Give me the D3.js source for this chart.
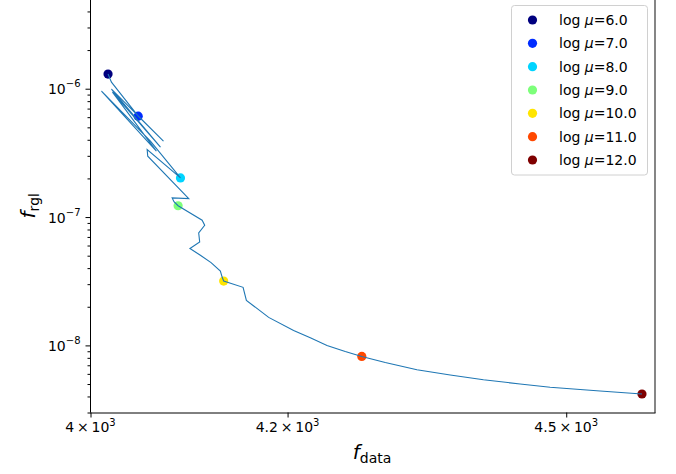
<!DOCTYPE html>
<html><head><meta charset="utf-8">
<script src="https://cdn.jsdelivr.net/npm/d3@7"></script>
<style>body{margin:0;background:#fff} svg{display:block}</style>
</head><body>
<svg id="chart" width="676" height="474"></svg>
<script>
// ---- data ----
const logMu = [6, 7, 8, 9, 10, 11, 12];
const muColors = ["#00007f", "#002cff", "#00d4ff", "#7dff7a", "#ffe500", "#ff4800", "#7f0000"];
const fDataMarkers = [4017.4, 4047.5, 4090.1, 4087.7, 4134.1, 4277.9, 4585.2];
const fRglMarkers  = [1.300e-6, 6.112e-7, 2.018e-7, 1.2248e-7, 3.173e-8, 8.204e-9, 4.182e-9];

const fDataPath = [4017.4, 4020.8, 4047.5, 4072.9, 4020.8, 4069.9, 4021.8, 4065.8, 4010.9, 4059.8,
  4090.1, 4056.5, 4057.1, 4098.5, 4081.7, 4083.5, 4087.7, 4112.1, 4114.7, 4108.6,
  4109.6, 4099.7, 4110.3, 4121.2, 4130.7, 4132.5, 4134.1, 4154.0, 4157.4, 4180.4,
  4206.3, 4223.7, 4241.2, 4260.4, 4277.9, 4302.8, 4336.7, 4372.6, 4408.7, 4448.9,
  4482.1, 4537.9, 4585.2];
const fRglPath = [1.300e-6, 1.1258e-6, 6.112e-7, 3.901e-7, 9.928e-7, 3.503e-7, 9.407e-7, 3.262e-7, 9.578e-7, 3.901e-7,
  2.018e-7, 3.3615e-7, 2.980e-7, 1.394e-7, 1.409e-7, 1.316e-7, 1.2248e-7, 9.440e-8, 8.629e-8, 7.514e-8,
  6.392e-8, 5.679e-8, 5.033e-8, 4.415e-8, 3.797e-8, 3.409e-8, 3.173e-8, 2.834e-8, 2.243e-8, 1.653e-8,
  1.308e-8, 1.148e-8, 9.996e-9, 8.976e-9, 8.204e-9, 7.366e-9, 6.459e-9, 5.886e-9, 5.399e-9, 5.005e-9,
  4.725e-9, 4.414e-9, 4.182e-9];

const xTicks = [4000, 4200, 4500];
const xTickMantissa = ["4", "4.2", "4.5"];
const xTickExp = "3";
const yTicks = [1e-8, 1e-7, 1e-6];
const yTickExp = ["\u22128", "\u22127", "\u22126"];
const xDomain = [4000, 4600];
const yDomain = [3e-9, 5e-6];

// ---- layout ----
const svg = d3.select("#chart");
const L = 90.5, R = 655, T = -1, B = 412.5;
const font = "DejaVu Sans, sans-serif";

const x = d3.scaleLog().domain(xDomain).range([L, R]);
const y = d3.scaleLog().domain(yDomain).range([B, T]);

// minor y ticks
const yMinor = [];
for (let e = -9; e <= -6; e++) {
  for (let m = 2; m <= 9; m++) {
    const v = m * Math.pow(10, e);
    if (v >= yDomain[0] * 0.999 && v <= yDomain[1] * 1.001) yMinor.push(v);
  }
}

// markers (under the line)
svg.append("g").selectAll("circle").data(logMu).join("circle")
  .attr("cx", (d, i) => x(fDataMarkers[i]))
  .attr("cy", (d, i) => y(fRglMarkers[i]))
  .attr("r", 4.6)
  .attr("fill", (d, i) => muColors[i]);

// line
const line = d3.line().x((d, i) => x(fDataPath[i])).y((d, i) => y(fRglPath[i]));
svg.append("path").datum(fDataPath)
  .attr("d", line)
  .attr("fill", "none")
  .attr("stroke", "#1f77b4")
  .attr("stroke-width", 1.1)
  .attr("stroke-linejoin", "miter");

// axes
const yAxis = d3.axisLeft(y).tickValues(yTicks).tickFormat("").tickSize(5).tickSizeOuter(0);
const gy = svg.append("g").attr("transform", `translate(${L},0)`).call(yAxis);
const yAxisMinor = d3.axisLeft(y).tickValues(yMinor).tickFormat("").tickSize(3).tickSizeOuter(0);
const gym = svg.append("g").attr("transform", `translate(${L},0)`).call(yAxisMinor);
gym.select(".domain").remove();

const xAxis = d3.axisBottom(x).tickValues(xTicks).tickFormat("").tickSize(5).tickSizeOuter(0);
const gx = svg.append("g").attr("transform", `translate(0,${B})`).call(xAxis);

[gx, gy, gym].forEach(g => {
  g.selectAll(".tick line").attr("stroke", "#000").attr("stroke-width", 1);
  g.select(".domain").attr("stroke", "#000").attr("stroke-width", 1);
});
gx.select(".domain").attr("d", `M${L - 0.5},0.5H${R + 0.5}`);
gy.select(".domain").attr("d", `M0,${B}V${T - 5}`);

// right spine
svg.append("line").attr("x1", R).attr("x2", R).attr("y1", T - 5).attr("y2", B + 0.5)
  .attr("stroke", "#222").attr("stroke-width", 1.1);

// y tick labels
yTicks.forEach((v, i) => {
  const t = svg.append("text").attr("x", L - 10).attr("y", y(v) + 5.5)
    .attr("text-anchor", "end").attr("font-family", font).attr("font-size", 14).attr("fill", "#000");
  t.append("tspan").text("10");
  t.append("tspan").attr("font-size", 10).attr("dy", -7).text(yTickExp[i]);
});

// x tick labels
xTicks.forEach((v, i) => {
  const t = svg.append("text").attr("x", x(v)).attr("y", B + 19.5)
    .attr("text-anchor", "middle").attr("font-family", font).attr("font-size", 14).attr("fill", "#000");
  t.append("tspan").text(xTickMantissa[i] + "\u2009\u00d7\u200910");
  t.append("tspan").attr("font-size", 10).attr("dy", -6).text(xTickExp);
});

// axis labels
const xl = svg.append("text").attr("x", 372).attr("y", 459).attr("text-anchor", "middle")
  .attr("font-family", font).attr("font-size", 20).attr("fill", "#000");
xl.append("tspan").attr("font-style", "italic").text("f");
xl.append("tspan").attr("font-size", 14).attr("dy", 4).text("data");

const yl = svg.append("text").attr("transform", `translate(35,${(T + B) / 2}) rotate(-90)`)
  .attr("text-anchor", "middle").attr("font-family", font).attr("font-size", 20).attr("fill", "#000");
yl.append("tspan").attr("font-style", "italic").text("f");
yl.append("tspan").attr("font-size", 14).attr("dy", 4).text("rgl");

// legend
const lg = svg.append("g");
lg.append("rect").attr("x", 511.5).attr("y", 5.5).attr("width", 136).attr("height", 169.5)
  .attr("rx", 3).attr("fill", "#fff").attr("fill-opacity", 0.8)
  .attr("stroke", "#d0d0d0").attr("stroke-width", 1);
logMu.forEach((m, i) => {
  const cy = 20 + i * 23.33;
  lg.append("circle").attr("cx", 532.5).attr("cy", cy).attr("r", 4.6).attr("fill", muColors[i]);
  const t = lg.append("text").attr("x", 559).attr("y", cy + 5)
    .attr("font-family", font).attr("font-size", 14).attr("fill", "#000");
  t.append("tspan").text("log ");
  t.append("tspan").attr("font-style", "italic").text("\u03bc");
  t.append("tspan").text("=" + m.toFixed(1));
});
</script>
</body></html>
